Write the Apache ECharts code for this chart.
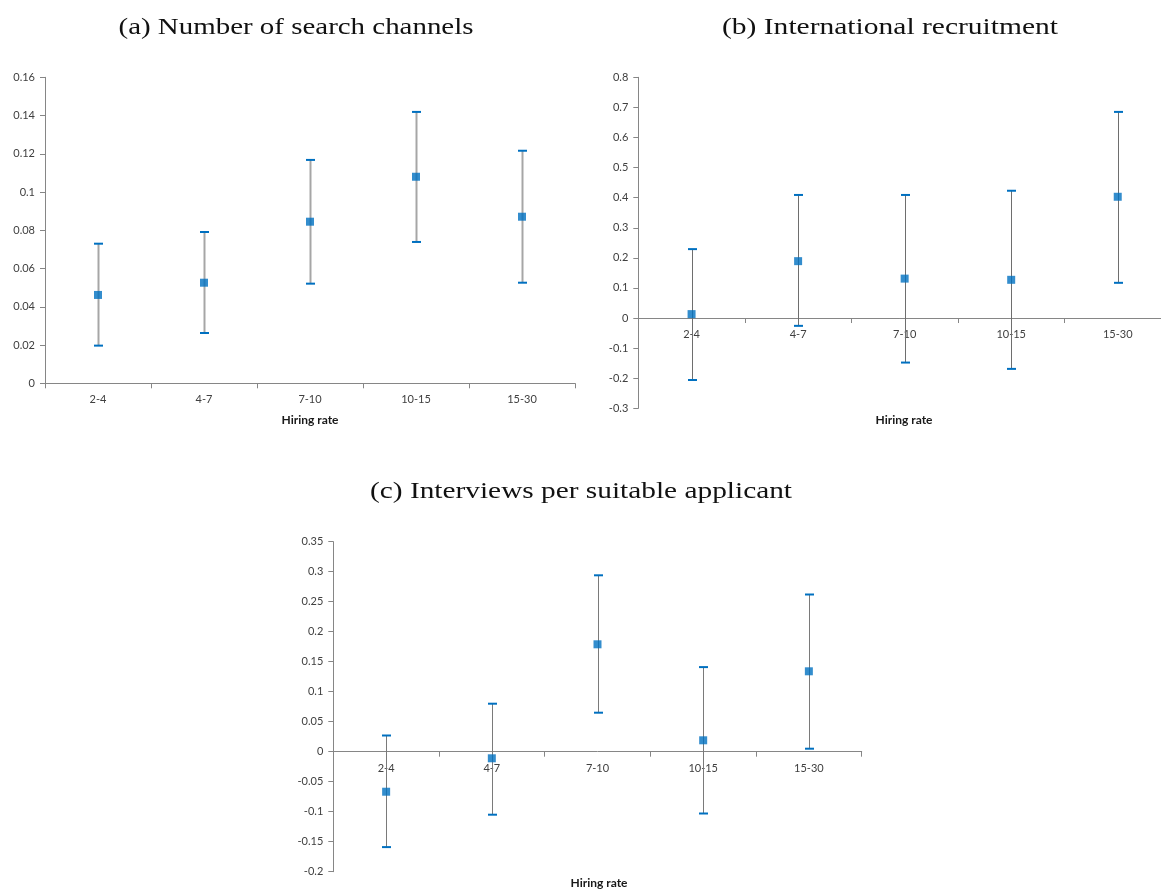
<!DOCTYPE html>
<html>
<head>
<meta charset="utf-8">
<script src="https://cdn.jsdelivr.net/npm/echarts@6/dist/echarts.min.js"></script>
<style>
html,body{margin:0;padding:0;background:#fff;}
#chart{width:1161px;height:890px;}
</style>
</head>
<body>
<div id="chart"></div>
<script>
// ---- data ----
var categories = ['2-4', '4-7', '7-10', '10-15', '15-30'];
var titleA = '(a) Number of search channels';
var titleB = '(b) International recruitment';
var titleC = '(c) Interviews per suitable applicant';
var xAxisName = 'Hiring rate';

var aMean = [0.0462, 0.0526, 0.0845, 0.108, 0.0871];
var aLow  = [0.0197, 0.0263, 0.0521, 0.0739, 0.0526];
var aHigh = [0.0730, 0.0791, 0.1168, 0.1419, 0.1216];

var bMean = [0.013, 0.189, 0.131, 0.127, 0.403];
var bLow  = [-0.206, -0.026, -0.148, -0.169, 0.117];
var bHigh = [0.229, 0.409, 0.409, 0.423, 0.685];

var cMean = [-0.0667, -0.011, 0.179, 0.019, 0.134];
var cLow  = [-0.159, -0.105, 0.065, -0.103, 0.005];
var cHigh = [0.027, 0.080, 0.294, 0.141, 0.262];

var aTicks = {min: 0, max: 0.16, interval: 0.02};
var bTicks = {min: -0.3, max: 0.8, interval: 0.1};
var cTicks = {min: -0.2, max: 0.35, interval: 0.05};
var yTicks = [aTicks, bTicks, cTicks];

// ---- styling ----
var BLUE = '#0070C0';
var AXIS = '#868686';
var LABEL = '#404040';
var tickFont = 'Lato';
var titleFontSize = 23;
var titleFont = titleFontSize + 'px "Liberation Serif", "DejaVu Serif", serif';
var nameFont = 'bold 12px Lato, sans-serif';

function fmt(v) { return String(+v.toFixed(4)); }

// horizontal stretch so the serif titles take the width of the reference's TeX font
var measureCtx = document.createElement('canvas').getContext('2d');
measureCtx.font = titleFont;
function stretch(text, targetWidth) {
  return targetWidth / measureCtx.measureText(text).width;
}

function xAxisFor(idx) {
  return {
    type: 'category', gridIndex: idx, data: categories,
    boundaryGap: true, position: 'bottom', offset: 0,
    axisLine: {show: true, onZero: false, lineStyle: {color: AXIS, width: 1}},
    axisTick: {show: true, length: 5, lineStyle: {color: AXIS}},
    axisLabel: {color: LABEL, fontFamily: tickFont, fontSize: 11, margin: 11},
    splitLine: {show: false}
  };
}
function yAxisFor(idx, t) {
  return {
    type: 'value', gridIndex: idx, min: t.min, max: t.max, interval: t.interval,
    axisLine: {show: true, onZero: false, lineStyle: {color: AXIS, width: 1}},
    axisTick: {show: true, length: 5, lineStyle: {color: AXIS}},
    axisLabel: {color: LABEL, fontFamily: tickFont, fontSize: 11, margin: 10, formatter: fmt},
    splitLine: {show: false}
  };
}

function errSeries(idx, low, high, lineColor, lineWidth) {
  var d = categories.map(function (c, i) { return [i, low[i], high[i]]; });
  return {
    type: 'custom', xAxisIndex: idx, yAxisIndex: idx, data: d, z: 2, silent: true,
    renderItem: function (params, api) {
      var x = api.value(0);
      var lo = api.coord([x, api.value(1)]);
      var hi = api.coord([x, api.value(2)]);
      var cx = Math.round(lo[0]) + 0.5;
      var hw = 4.5;
      return {
        type: 'group',
        children: [
          {type: 'line', shape: {x1: cx, y1: hi[1], x2: cx, y2: lo[1]},
           style: {stroke: lineColor, lineWidth: lineWidth}},
          {type: 'line', shape: {x1: cx - hw, y1: hi[1], x2: cx + hw, y2: hi[1]},
           style: {stroke: BLUE, lineWidth: 2}},
          {type: 'line', shape: {x1: cx - hw, y1: lo[1], x2: cx + hw, y2: lo[1]},
           style: {stroke: BLUE, lineWidth: 2}}
        ]
      };
    }
  };
}
function pointSeries(idx, mean) {
  return {
    type: 'scatter', xAxisIndex: idx, yAxisIndex: idx, z: 3,
    symbol: 'rect', symbolSize: 8,
    itemStyle: {color: BLUE},
    data: mean.map(function (v, i) { return [i, v]; })
  };
}
function titleText(text, x, y, w) {
  return {type: 'text', x: x, y: y, scaleX: stretch(text, w),
    style: {text: text, font: titleFont, fill: '#111', align: 'center', verticalAlign: 'middle'}};
}
function nameText(x, y) {
  return {type: 'text', x: x, y: y,
    style: {text: xAxisName, font: nameFont, fill: '#1a1a1a', align: 'center', verticalAlign: 'middle'}};
}

var chart = echarts.init(document.getElementById('chart'), null, {renderer: 'canvas'});
chart.setOption({
  backgroundColor: '#ffffff',
  animation: false,
  graphic: [
    titleText(titleA, 296, 28, 355),
    titleText(titleB, 890, 28, 336),
    titleText(titleC, 581, 492, 422),
    nameText(310, 420),
    nameText(904, 420),
    nameText(599, 883)
  ],
  grid: [
    {left: 45, right: 586, top: 77.3, bottom: 506.7, outerBoundsMode: 'none'},
    {left: 638.3, right: -10, top: 77.3, bottom: 481.7, outerBoundsMode: 'none'},
    {left: 333.3, right: 299.3, top: 541.7, bottom: 18.3, outerBoundsMode: 'none'}
  ],
  xAxis: [xAxisFor(0), xAxisFor(1), xAxisFor(2)],
  yAxis: [yAxisFor(0, aTicks), yAxisFor(1, bTicks), yAxisFor(2, cTicks)],
  series: [
    errSeries(0, aLow, aHigh, '#A6A6A6', 2),
    pointSeries(0, aMean),
    errSeries(1, bLow, bHigh, '#6E6E6E', 1),
    pointSeries(1, bMean),
    errSeries(2, cLow, cHigh, '#7A7A7A', 1),
    pointSeries(2, cMean)
  ]
});

// move each category axis (line, ticks and labels) up to the zero line of its value axis
var offsets = yTicks.map(function (t, i) {
  var zeroPx = chart.convertToPixel({gridIndex: i}, [0, 0])[1];
  var bottomPx = chart.convertToPixel({gridIndex: i}, [0, t.min])[1];
  return {offset: zeroPx - bottomPx};
});
chart.setOption({xAxis: offsets});
</script>
</body>
</html>
